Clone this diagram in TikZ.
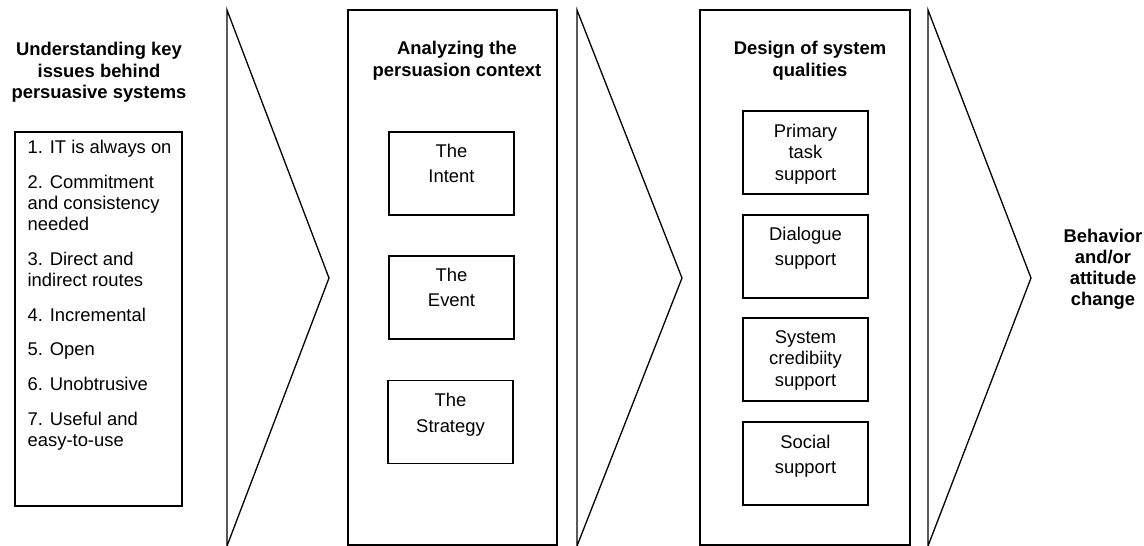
\documentclass[tikz,border=0pt]{standalone}
\usepackage{fontspec}
\setmainfont{Liberation Sans}
\usetikzlibrary{positioning}
% strut that fixes the height of a first line
\newcommand\fl{\rule{0pt}{14pt}}
\begin{document}
\begin{tikzpicture}[x=1pt,y=-1pt,
  line width=1.3pt,
  frame/.style={draw, rectangle, inner sep=0pt, line width=1.3pt},
  bigbox/.style={frame, minimum width=209pt, minimum height=535pt},
  subbox/.style={frame, minimum width=125pt, minimum height=83pt},
  chevron/.style={draw, line width=1.3pt, line join=miter},
  txt/.style={inner sep=0pt, anchor=north, align=center},
  title/.style={txt, font=\fontsize{18.4}{21.5}\selectfont\bfseries},
  tight/.style={txt, font=\fontsize{18.4}{21.5}\selectfont},
  loose/.style={txt, font=\fontsize{18.4}{25.5}\selectfont}
]
\useasboundingbox (0,0) rectangle (1144,546);

% first stage: key issues
\node[title] (issuesT) at (99,41)
  {\fl Understanding key\\ issues behind\\ persuasive systems};
\node[frame, minimum width=167pt, minimum height=374pt] (issues) at (98.5,319) {};
\node[txt, anchor=north west, align=left, font=\fontsize{18.4}{21}\selectfont]
  (issuesL) at (27,139)
  {\fl 1. IT is always on\\[13.8pt]
   2. Commitment\\ and consistency\\ needed\\[13.8pt]
   3. Direct and\\ indirect routes\\[13.8pt]
   4. Incremental\\[13.8pt]
   5. Open\\[13.8pt]
   6. Unobtrusive\\[13.8pt]
   7. Useful and\\ easy-to-use};

% process arrows
\draw[chevron] (227,10) -- (329,278) -- (227,546) -- cycle;
\draw[chevron] (577,10) -- (682,278) -- (577,546) -- cycle;
\draw[chevron] (928,10) -- (1031,278) -- (928,546) -- cycle;

% second stage: persuasion context
\node[bigbox] (ctx) at (452.5,277.5) {};
\node[title] (ctxT) at (457,40) {\fl Analyzing the\\ persuasion context};
\node[subbox] (intent) at (451.5,173.5) {};
\node[subbox] (event) at (451.5,297.5) {};
\node[subbox] (strategy) at (450.5,422) {};
\node[loose, below=11pt of intent.north] (intentT) {\fl The\\ Intent};
\node[loose, below=11pt of event.north] (eventT) {\fl The\\ Event};
\node[loose, below=12pt of strategy.north] (strategyT) {\fl The\\ Strategy};

% third stage: system qualities
\node[bigbox, minimum width=210pt] (design) at (805,277.5) {};
\node[title] (designT) at (810,40) {\fl Design of system\\ qualities};
\node[subbox] (primary) at (805.5,152.5) {};
\node[subbox] (dialogue) at (805.5,256.5) {};
\node[subbox] (cred) at (805.5,359.5) {};
\node[subbox] (social) at (805.5,463.5) {};
\node[tight, below=12pt of primary.north] (primaryT) {\fl Primary\\ task\\ support};
\node[loose, below=11pt of dialogue.north] (dialogueT) {\fl Dialogue\\ support};
\node[tight, below=11pt of cred.north] (credT) {\fl System\\ credibiity\\ support};
\node[loose, below=12pt of social.north] (socialT) {\fl Social\\ support};

% outcome
\node[title, font=\fontsize{18.4}{21}\selectfont\bfseries] (outcome) at (1103,228)
  {\fl Behavior\\ and/or\\ attitude\\ change};
\end{tikzpicture}
\end{document}
